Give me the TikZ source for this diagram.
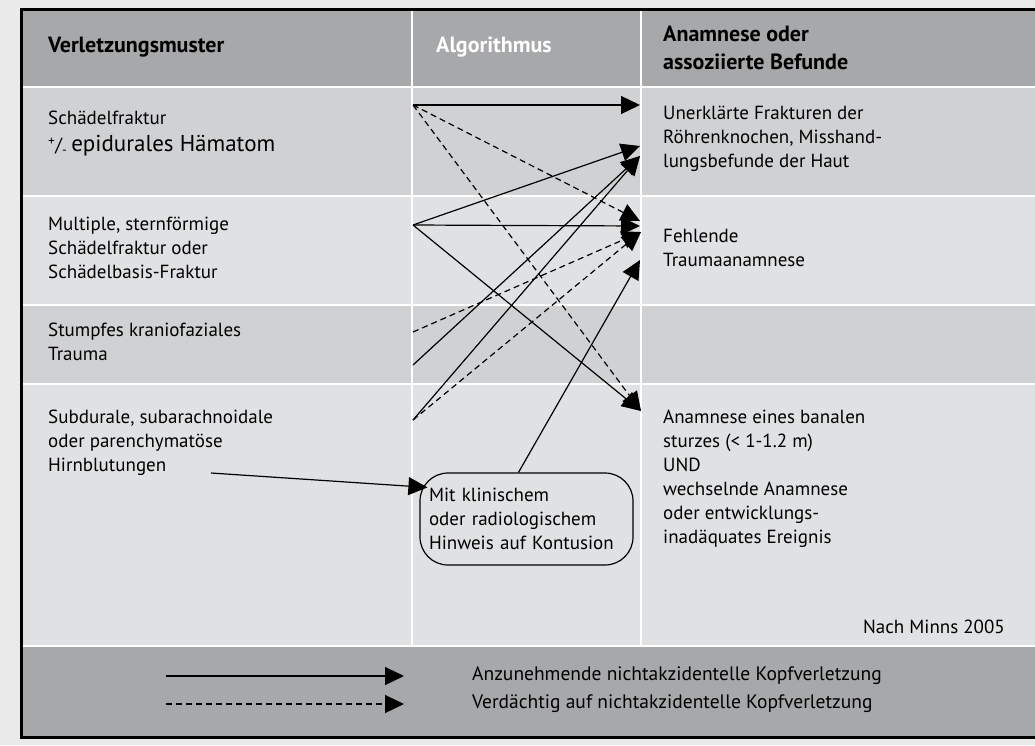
\documentclass[tikz,border=0pt]{standalone}
\usepackage{fontspec}
\setmainfont{PT Sans}
\usepackage{tikz}
\usetikzlibrary{arrows.meta}
\definecolor{kopfgrau}{HTML}{A7A8AA}
\definecolor{zeileA}{HTML}{D0D1D3}
\definecolor{zeileB}{HTML}{E0E1E3}
\definecolor{umgebung}{HTML}{EAEAEA}
\tikzstyle{zelle} = [anchor=west, align=left, inner sep=0pt, font=\fontsize{19}{24}\selectfont]
\tikzstyle{kopf} = [zelle, font=\fontsize{22}{28}\selectfont\bfseries]
\tikzstyle{pfeil} = [line width=1.2pt, -{Triangle[length=19pt,width=18pt]}]
\tikzstyle{verdacht} = [pfeil, dash pattern=on 6pt off 4pt]
\tikzstyle{kasten} = [draw, line width=1.2pt, rounded corners=28pt, align=left, text width=195pt, inner xsep=9pt, minimum height=92pt, font=\fontsize{19}{24}\selectfont]

\begin{document}
\begin{tikzpicture}[x=1pt, y=-1pt]
		\useasboundingbox (0,0) rectangle (1035,745);
		\fill[umgebung] (0,0) rectangle (1035,745);
		% Tabelle
		\fill[kopfgrau] (21,9) rectangle (1045,87);
		\fill[zeileA] (21,87) rectangle (1045,196);
		\fill[zeileB] (21,196) rectangle (1045,305);
		\fill[zeileA] (21,305) rectangle (1045,384);
		\fill[zeileB] (21,384) rectangle (1045,646);
		\fill[kopfgrau] (21,646) rectangle (1045,737);
		\foreach \y in {87,196,305,384,646}
			\draw[white, line width=2pt] (21,\y) -- (1045,\y);
		\foreach \x in {412,641}
			\draw[white, line width=2pt] (\x,9) -- (\x,646);
		\draw[line width=3pt] (21,9) rectangle (1045,737);

		% Kopfzeile
		\node[kopf](verletzung) at (48,47) {Verletzungsmuster};
		\node[kopf, text=white](algorithmus) at (436,47) {Algorithmus};
		\node[kopf](befunde) at (663,48) {Anamnese oder\\assoziierte Befunde};

		% linke Spalte
		\node[zelle](schaedel) at (48,134) {Schädelfraktur\\[3pt]{\textsuperscript{+}/\textsubscript{-}\fontsize{23}{27}\selectfont\,epidurales Hämatom}};
		\node[zelle](multiple) at (48,248) {Multiple, sternförmige\\Schädelfraktur oder\\Schädelbasis-Fraktur};
		\node[zelle](stumpf) at (48,342) {Stumpfes kraniofaziales\\Trauma};
		\node[zelle](blutung) at (48,443) {Subdurale, subarachnoidale\\oder parenchymatöse\\Hirnblutungen};

		% rechte Spalte
		\node[zelle](frakturen) at (663,139) {Unerklärte Frakturen der\\Röhrenknochen, Misshand-\\lungsbefunde der Haut};
		\node[zelle](fehlend) at (663,248) {Fehlende\\Traumaanamnese};
		\node[zelle](sturz) at (663,479) {Anamnese eines banalen\\sturzes (< 1-1.2 m)\\UND\\wechselnde Anamnese\\oder entwicklungs-\\inadäquates Ereignis};
		\node[zelle, anchor=east](quelle) at (1005,627) {Nach Minns 2005};

		% Algorithmus
		\node[kasten](kontusion) at (526.5,519) {Mit klinischem\\oder radiologischem\\Hinweis auf Kontusion};
		\coordinate (q1) at (413,105);
		\coordinate (q2) at (413,225);
		\coordinate (q3a) at (413,332);
		\coordinate (q3b) at (413,365);
		\coordinate (q4) at (413,420);
		\coordinate (hb) at (211,473);
		\coordinate (z1) at (640,105);
		\coordinate (z2) at (640,146);
		\coordinate (z3) at (640,156);
		\coordinate (z4a) at (640,221);
		\coordinate (z4b) at (640,226);
		\coordinate (z5) at (641,232);
		\coordinate (z6) at (640,260);
		\coordinate (z7) at (641,411);

		\draw[pfeil] (q1) -- (z1);
		\draw[verdacht] (q1) -- (z4a);
		\draw[verdacht] (q1) -- (z7);
		\draw[pfeil] (q2) -- (z2);
		\draw[pfeil] (q2) -- (z4b);
		\draw[pfeil] (q2) -- (z7);
		\draw[verdacht] (q3a) -- (z5);
		\draw[pfeil] (q3b) -- (z3);
		\draw[pfeil] (q4) -- (z3);
		\draw[verdacht] (q4) -- (z5);
		\draw[pfeil] ([xshift=-8pt]kontusion.north) -- (z6);
		\draw[pfeil] (hb) -- ([xshift=8pt,yshift=-15pt]kontusion.north west);

		% Legende
		\coordinate (l1) at (166,676);
		\coordinate (l2) at (166,704);
		\node[zelle, font=\fontsize{19.5}{24}\selectfont](anzunehmen) at (472,676) {Anzunehmende nichtakzidentelle Kopfverletzung};
		\node[zelle, font=\fontsize{19.5}{24}\selectfont](verdaechtig) at (472,704) {Verdächtig auf nichtakzidentelle Kopfverletzung};
		\draw[pfeil] (l1) -- (404,676);
		\draw[verdacht] (l2) -- (404,704);
	\end{tikzpicture}
\end{document}
